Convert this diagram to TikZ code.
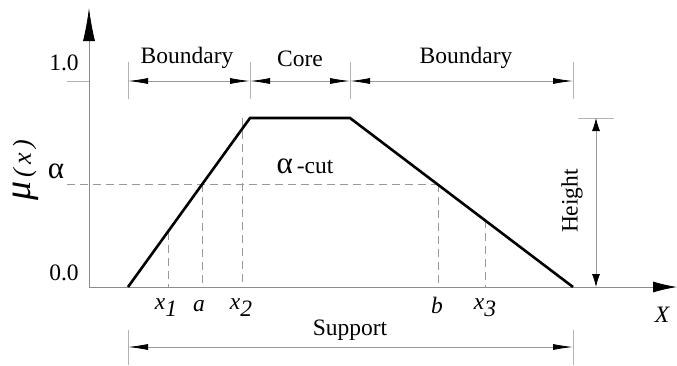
\documentclass[tikz,border=0pt]{standalone}
\usepackage{fontspec}
\setmainfont{Liberation Serif}
\usetikzlibrary{arrows.meta}
\begin{document}
\begin{tikzpicture}[x=1pt,y=-1pt,
  lbl/.style={inner sep=0pt,font=\fontsize{23.5}{26}\selectfont},
  axisline/.style={draw=black!45,line width=0.8pt},
  dimline/.style={draw=black!40,line width=0.8pt},
  dimtick/.style={draw=black!30,line width=0.8pt},
  guide/.style={draw=black!40,line width=0.8pt,dash pattern=on 8pt off 5pt},
  curve/.style={draw=black,line width=2.6pt,line join=miter},
  dimarrow/.style={dimline,{Latex[length=20pt,width=6pt,black]}-{Latex[length=20pt,width=6pt,black]}},
]
\useasboundingbox (0,0) rectangle (677,365);
% key points
\coordinate (O) at (89,287);
\coordinate (Ytop) at (89,8);
\coordinate (Xend) at (677,287);
\coordinate (P1) at (128,287);
\coordinate (P2) at (250,118);
\coordinate (P3) at (350,118);
\coordinate (P4) at (573,287);
% axes
\draw[axisline,-{Latex[length=33pt,width=12pt,black]}] (O) -- (Ytop);
\draw[axisline,-{Latex[length=24pt,width=11pt,black]}] (O) -- (Xend);
% 1.0 tick
\coordinate (T1a) at (67,81);
\coordinate (T1b) at (89,81);
\draw[dimtick] (T1a) -- (T1b);
% alpha cut dashed
\coordinate (Aa) at (67,184);
\coordinate (Ab) at (438,184);
\draw[guide] (Aa) -- (Ab);
% vertical guides
\coordinate (G1t) at (168,232); \coordinate (G1b) at (168,287);
\coordinate (Gat) at (202,184); \coordinate (Gab) at (202,287);
\coordinate (G2t) at (242,118); \coordinate (G2b) at (242,287);
\coordinate (Gbt) at (438,184); \coordinate (Gbb) at (438,287);
\coordinate (G3t) at (485,220); \coordinate (G3b) at (485,287);
\draw[guide] (G1t) -- (G1b);
\draw[guide] (Gat) -- (Gab);
\draw[guide] (G2t) -- (G2b);
\draw[guide] (Gbt) -- (Gbb);
\draw[guide] (G3t) -- (G3b);
% trapezoid
\draw[curve] (P1) -- (P2) -- (P3) -- (P4);
% top dimension ticks
\coordinate (D1t) at (128,62); \coordinate (D1b) at (128,99);
\coordinate (D2t) at (250,62); \coordinate (D2b) at (250,99);
\coordinate (D3t) at (350,62); \coordinate (D3b) at (350,99);
\coordinate (D4t) at (573,62); \coordinate (D4b) at (573,99);
\draw[dimtick] (D1t) -- (D1b);
\draw[dimtick] (D2t) -- (D2b);
\draw[dimtick] (D3t) -- (D3b);
\draw[dimtick] (D4t) -- (D4b);
\coordinate (d1) at (128,81); \coordinate (d2) at (250,81);
\coordinate (d3) at (350,81); \coordinate (d4) at (573,81);
\draw[dimarrow] (d1) -- (d2);
\draw[dimarrow] (d2) -- (d3);
\draw[dimarrow] (d3) -- (d4);
% height
\coordinate (Ht1) at (578,118); \coordinate (Ht2) at (614,118);
\draw[dimtick] (Ht1) -- (Ht2);
\coordinate (Ha) at (596,118); \coordinate (Hb) at (596,287);
\draw[dimline,{Latex[length=13pt,width=8pt,black]}-{Latex[length=13pt,width=8pt,black]}] (Ha) -- (Hb);
% support
\coordinate (S1t) at (128,330); \coordinate (S1b) at (128,365);
\coordinate (S2t) at (573,330); \coordinate (S2b) at (573,365);
\draw[dimtick] (S1t) -- (S1b);
\draw[dimtick] (S2t) -- (S2b);
\coordinate (Sa) at (128,347); \coordinate (Sb) at (573,347);
\draw[dimarrow] (Sa) -- (Sb);
% labels
\node[lbl] (l10) at (64,63) {1.0};
\node[lbl] (l00) at (64,273) {0.0};
\node[lbl,font=\fontsize{31}{33}\selectfont] (lal) at (56,171) {α};
\node[lbl,rotate=90] (lmu) at (26,170) {{\fontsize{38}{40}\selectfont\itshape μ}\,{\fontsize{26}{28}\selectfont\itshape(\,x\,)}};
\node[lbl] (lbd1) at (187,58) {Boundary};
\node[lbl] (lcore) at (300,59) {Core};
\node[lbl] (lbd2) at (466,58) {Boundary};
\node[lbl] (lcut) at (305,166) {{\fontsize{31}{33}\selectfont α}\,-cut};
\node[lbl,rotate=90] (lh) at (572,201) {Height};
\node[lbl] (lsup) at (350,330) {Support};
\node[lbl] (lx1) at (166,308) {\itshape x\raisebox{-0.3em}{1}};
\node[lbl] (la) at (199,306) {\itshape a};
\node[lbl] (lx2) at (241,308) {\itshape x\raisebox{-0.3em}{2}};
\node[lbl] (lb) at (437,305) {\itshape b};
\node[lbl] (lx3) at (485,308) {\itshape x\raisebox{-0.3em}{3}};
\node[lbl] (lX) at (662,315) {\itshape X};
\end{tikzpicture}
\end{document}
